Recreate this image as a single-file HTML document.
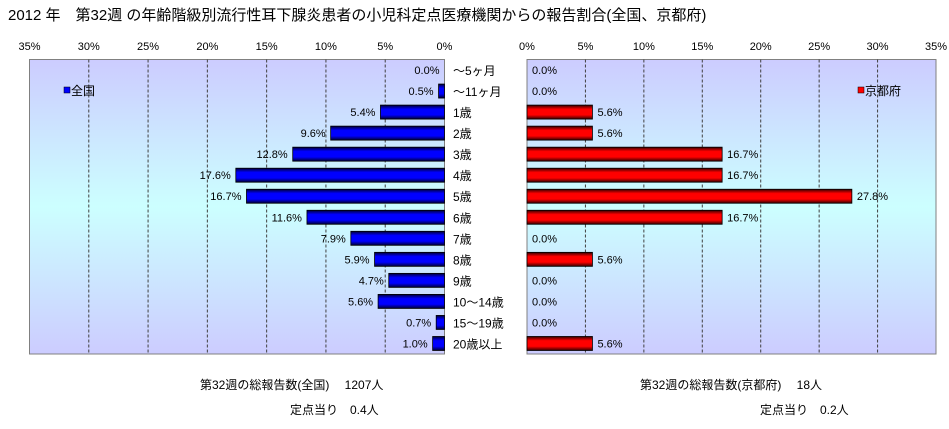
<!DOCTYPE html>
<html><head><meta charset="utf-8"><style>
body{margin:0;width:949px;height:424px;background:#fff;overflow:hidden;font-family:"Liberation Sans","Noto Sans CJK JP",sans-serif;}
svg text{font-family:"Liberation Sans","Noto Sans CJK JP",sans-serif;}
</style></head><body>
<svg id="c" width="949" height="424" xmlns="http://www.w3.org/2000/svg">
<defs>
<linearGradient id="bg" x1="0" y1="0" x2="0" y2="1"><stop offset="0" stop-color="#ccccff"/><stop offset="0.5" stop-color="#ccffff"/><stop offset="1" stop-color="#ccccff"/></linearGradient>
<linearGradient id="gb" x1="0" y1="0" x2="0" y2="1"><stop offset="0" stop-color="#000033"/><stop offset="0.3" stop-color="#0000ff"/><stop offset="0.7" stop-color="#0000ff"/><stop offset="1" stop-color="#000033"/></linearGradient>
<linearGradient id="gr" x1="0" y1="0" x2="0" y2="1"><stop offset="0" stop-color="#330000"/><stop offset="0.3" stop-color="#ff0000"/><stop offset="0.7" stop-color="#ff0000"/><stop offset="1" stop-color="#330000"/></linearGradient>
</defs>
<text x="8" y="20" font-size="15" fill="#000">2012 年　第32週 の年齢階級別流行性耳下腺炎患者の小児科定点医療機関からの報告割合(全国、京都府)</text>
<g id="g"></g>
<text x="200" y="389" font-size="12">第32週の総報告数(全国)　 1207人</text>
<text x="290" y="414" font-size="12">定点当り　0.4人</text>
<text x="640" y="389" font-size="12">第32週の総報告数(京都府)　 18人</text>
<text x="760" y="414" font-size="12">定点当り　0.2人</text>
</svg>
<script>
const categories=["～5ヶ月","～11ヶ月","1歳","2歳","3歳","4歳","5歳","6歳","7歳","8歳","9歳","10～14歳","15～19歳","20歳以上"];
const national=[0.0,0.5,5.4,9.6,12.8,17.6,16.7,11.6,7.9,5.9,4.7,5.6,0.7,1.0];
const kyoto=[0.0,0.0,5.6,5.6,16.7,16.7,27.8,16.7,0.0,5.6,0.0,0.0,0.0,5.6];
const ticks=[0,5,10,15,20,25,30,35];
const NS="http://www.w3.org/2000/svg";
const gRoot=document.getElementById('g');
function el(t,a){const e=document.createElementNS(NS,t);for(const k in a)e.setAttribute(k,a[k]);gRoot.appendChild(e);return e;}
const plotTop=59.5,plotBot=354,rowH=(plotBot-plotTop)/categories.length,barH=14;
const yC=i=>plotTop+rowH*(i+0.5);
const xL=v=>444.5-v*(415/35);
const xR=v=>527+v*(409/35);
let e=el('rect',{x:xL(35),y:plotTop,width:xL(0)-xL(35),height:plotBot-plotTop,fill:'url(#bg)',stroke:'#808080'});


e=el('rect',{x:xR(0),y:plotTop,width:xR(35)-xR(0),height:plotBot-plotTop,fill:'url(#bg)',stroke:'#808080'});


ticks.forEach(t=>{
  if(t>0&&t<35){
    e=el('line',{x1:xL(t),x2:xL(t),y1:plotTop,y2:plotBot,stroke:'#404040','stroke-dasharray':'3,2'});
    
    
    e=el('line',{x1:xR(t),x2:xR(t),y1:plotTop,y2:plotBot,stroke:'#404040','stroke-dasharray':'3,2'});
    
    
  }
  e=el('text',{x:xL(t),y:50,'font-size':11,'text-anchor':'middle'});e.textContent=t+'%';
  
  
  e=el('text',{x:xR(t),y:50,'font-size':11,'text-anchor':'middle'});e.textContent=t+'%';
  
  
});
categories.forEach((c,i)=>{
  const y=yC(i);
  let v=national[i];
  if(v>0){e=el('rect',{x:xL(v),y:y-barH/2,width:xL(0)-xL(v),height:barH,fill:'url(#gb)',stroke:'#000','stroke-width':0.8});
  
  }
  e=el('text',{x:xL(v)-5,y:y+4,'font-size':11,'text-anchor':'end'});e.textContent=v.toFixed(1)+'%';
  
  
  e=el('text',{x:453,y:y+5,'font-size':12});e.textContent=c;
  
  
  v=kyoto[i];
  if(v>0){e=el('rect',{x:xR(0),y:y-barH/2,width:xR(v)-xR(0),height:barH,fill:'url(#gr)',stroke:'#000','stroke-width':0.8});
  
  }
  e=el('text',{x:xR(v)+5,y:y+4,'font-size':11});e.textContent=v.toFixed(1)+'%';
  
  
});
e=el('rect',{x:64,y:87,width:6,height:6,fill:'#0000ff',stroke:'#000','stroke-width':0.5});


e=el('text',{x:71,y:95,'font-size':12});e.textContent='全国';


e=el('rect',{x:858,y:87,width:6,height:6,fill:'#ff0000',stroke:'#000','stroke-width':0.5});


e=el('text',{x:865,y:95,'font-size':12});e.textContent='京都府';


</script>
</body></html>
